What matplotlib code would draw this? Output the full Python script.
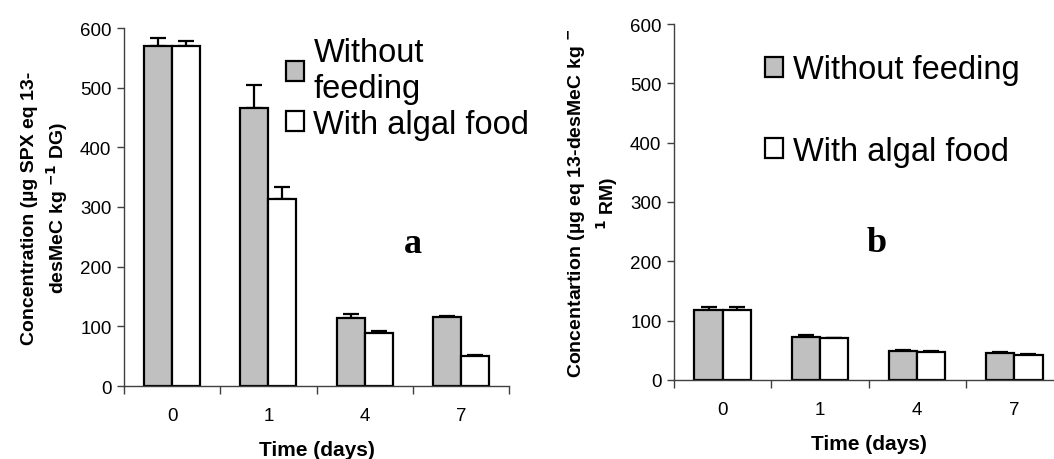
import numpy as np
import matplotlib
matplotlib.use("Agg")
import matplotlib.pyplot as plt

plt.rcParams['font.family'] = ['Liberation Sans', 'DejaVu Sans']

# data
days = ["0", "1", "4", "7"]

# panel a: µg SPX eq 13-desMeC kg-1 DG
a_without = [570, 466, 114, 116]
a_without_err = [13, 39, 6, 1]
a_algal = [570, 313, 89, 51]
a_algal_err = [9, 21, 3, 1]

# panel b: µg eq 13-desMeC kg-1 RM
b_without = [118, 72, 49, 46]
b_without_err = [5, 4, 1, 1]
b_algal = [118, 70, 48, 42]
b_algal_err = [5, 1, 1, 1]

GRAY = "#c0c0c0"
W = 0.29


def draw_panel(ax, s1, e1, s2, e2):
    x = np.arange(len(days))
    ax.bar(x - W / 2, s1, W, color=GRAY, edgecolor="black", linewidth=1.6,
           label="s1", zorder=2)
    ax.bar(x + W / 2, s2, W, color="white", edgecolor="black", linewidth=1.6,
           label="s2", zorder=2)
    ax.errorbar(x - W / 2, s1, yerr=[np.zeros(len(e1)), e1], fmt="none",
                ecolor="black", elinewidth=1.6, capsize=6, capthick=1.6, zorder=1)
    ax.errorbar(x + W / 2, s2, yerr=[np.zeros(len(e2)), e2], fmt="none",
                ecolor="black", elinewidth=1.6, capsize=6, capthick=1.6, zorder=1)
    ax.set_xlim(-0.5, len(days) - 0.5)
    ax.set_ylim(0, 600)
    ax.set_yticks(np.arange(0, 601, 100))
    ax.set_xticks(x)
    ax.set_xticklabels(days)
    ax.set_xticks(np.arange(-0.5, len(days), 1.0), minor=True)
    ax.tick_params(axis="x", which="major", length=0, pad=15, labelsize=13.5)
    ax.tick_params(axis="x", which="minor", length=6, width=1, color="#404040")
    ax.tick_params(axis="y", length=5, width=1, color="#404040", labelsize=13.5, pad=4)
    for s in ["top", "right"]:
        ax.spines[s].set_visible(False)
    for s in ["left", "bottom"]:
        ax.spines[s].set_color("#404040")
        ax.spines[s].set_linewidth(1)
    ax.set_xlabel("Time (days)", fontsize=15, fontweight="bold", labelpad=12)


fig = plt.figure(figsize=(10.54, 4.6), dpi=100)

ax1 = fig.add_axes([124 / 1054, 1 - 387 / 460, 385 / 1054, 358 / 460])
draw_panel(ax1, a_without, a_without_err, a_algal, a_algal_err)
ax1.set_ylabel("Concentration (µg SPX eq 13-\ndesMeC kg $^{\\mathbf{-1}}$ DG)",
               fontsize=14, fontweight="bold", linespacing=1.3, labelpad=7)
h, _ = ax1.get_legend_handles_labels()
ax1.legend(h, ["Without\nfeeding", "With algal food"], loc="upper left",
           bbox_to_anchor=(0.42, 0.975), frameon=False, fontsize=23.5,
           handlelength=0.55, handleheight=0.55, handletextpad=0.3,
           labelspacing=0.15, borderaxespad=0, borderpad=0)
ax1.text(0.75, 0.374, "a", transform=ax1.transAxes, fontsize=26,
         fontweight="bold", family="Liberation Serif", ha="center")

ax2 = fig.add_axes([674 / 1054, 1 - 381 / 460, 389 / 1054, 356 / 460])
draw_panel(ax2, b_without, b_without_err, b_algal, b_algal_err)
ax2.set_ylabel("Concentartion (µg eq 13-desMeC kg $^{\\mathbf{-}}$\n$^{\\mathbf{1}}$ RM)",
               fontsize=14, fontweight="bold", linespacing=1.3, labelpad=7)
h, _ = ax2.get_legend_handles_labels()
ax2.legend(h, ["Without feeding", "With algal food"], loc="upper left",
           bbox_to_anchor=(0.235, 0.915), frameon=False, fontsize=23.5,
           handlelength=0.55, handleheight=0.55, handletextpad=0.3,
           labelspacing=1.55, borderaxespad=0, borderpad=0)
ax2.text(0.52, 0.362, "b", transform=ax2.transAxes, fontsize=26,
         fontweight="bold", family="Liberation Serif", ha="center")

fig.savefig("out.png", dpi=100)
